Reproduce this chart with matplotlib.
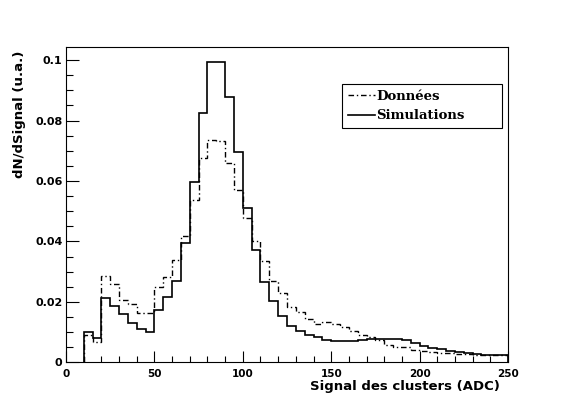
import numpy as np
import matplotlib.pyplot as plt
from matplotlib.lines import Line2D
from matplotlib.ticker import MultipleLocator, FuncFormatter

# bords des bins (ADC), pas de 5
bords = np.arange(10, 251, 5)

donnees = [0.0090, 0.0069, 0.0285, 0.0258, 0.0207, 0.0192, 0.0163, 0.0163,
           0.0248, 0.0282, 0.0338, 0.0417, 0.0536, 0.0675, 0.0736, 0.0732,
           0.0658, 0.0569, 0.0477, 0.0401, 0.0335, 0.0271, 0.0229, 0.0182,
           0.0167, 0.0143, 0.0128, 0.0133, 0.0127, 0.0118, 0.0104, 0.0092,
           0.0083, 0.0076, 0.0059, 0.0051, 0.0051, 0.0040, 0.0037, 0.0034,
           0.0031, 0.0031, 0.0028, 0.0028, 0.0026, 0.0025, 0.0024, 0.0024]

simulations = [0.0102, 0.0080, 0.0212, 0.0188, 0.0159, 0.0130, 0.0110, 0.0100,
               0.0173, 0.0216, 0.0269, 0.0395, 0.0597, 0.0825, 0.0992, 0.0992,
               0.0877, 0.0695, 0.0510, 0.0371, 0.0266, 0.0203, 0.0154, 0.0121,
               0.0104, 0.0091, 0.0083, 0.0074, 0.0070, 0.0070, 0.0070, 0.0073,
               0.0078, 0.0078, 0.0078, 0.0077, 0.0073, 0.0063, 0.0056, 0.0049,
               0.0044, 0.0037, 0.0034, 0.0030, 0.0028, 0.0026, 0.0026, 0.0026]

noms = ['Données', 'Simulations']
tiret_point = (0, (4, 2, 1, 2))

fig = plt.figure(figsize=(5.75, 4.09), dpi=100)
ax = fig.add_axes([0.1148, 0.1137, 0.7687, 0.7714])

ax.stairs(simulations, bords, color='k', lw=1.2)
ax.stairs(donnees, bords, color='k', lw=1.0, linestyle=tiret_point)

ax.set_xlim(0, 250)
ax.set_ylim(0, 0.1043)

for s in ax.spines.values():
    s.set_linewidth(0.8)

ax.xaxis.set_major_locator(MultipleLocator(50))
ax.xaxis.set_minor_locator(MultipleLocator(10))
ax.yaxis.set_major_locator(MultipleLocator(0.02))
ax.yaxis.set_minor_locator(MultipleLocator(0.005))
ax.yaxis.set_major_formatter(FuncFormatter(lambda v, p: '%g' % round(v, 4)))

police = dict(family='DejaVu Sans', weight='bold')
ax.tick_params(axis='x', which='major', direction='in', length=7.6, width=0.8, pad=5, labelsize=7.5)
ax.tick_params(axis='x', which='minor', direction='in', length=4, width=0.8)
ax.tick_params(axis='y', which='major', direction='in', length=9.5, width=0.8, pad=2.5, labelsize=8)
ax.tick_params(axis='y', which='minor', direction='in', length=5, width=0.8)
for lab in ax.get_xticklabels() + ax.get_yticklabels():
    lab.set_fontweight('bold')

fig.text(500 / 575, 1 - 390 / 409, 'Signal des clusters (ADC)', ha='right', va='baseline',
         fontsize=9.5, **police)
fig.text(20 / 575, 1 - 51 / 409, 'dN/dSignal (u.a.)', rotation=90, ha='center', va='top',
         fontsize=9.5, **police)

poignees = [Line2D([], [], color='k', lw=1.0, linestyle=tiret_point),
            Line2D([], [], color='k', lw=1.2)]
leg = ax.legend(poignees, noms, loc='upper left', bbox_to_anchor=(0.625, 0.743, 0.361, 0.14),
                mode='expand', fancybox=False, edgecolor='k', framealpha=1, borderpad=0.45,
                handlelength=2.0, handletextpad=0.15, labelspacing=0.5, borderaxespad=0,
                prop=dict(family='DejaVu Serif', weight='bold', size=9.5))
leg.get_frame().set_linewidth(0.8)

plt.savefig('out.png', dpi=100)
